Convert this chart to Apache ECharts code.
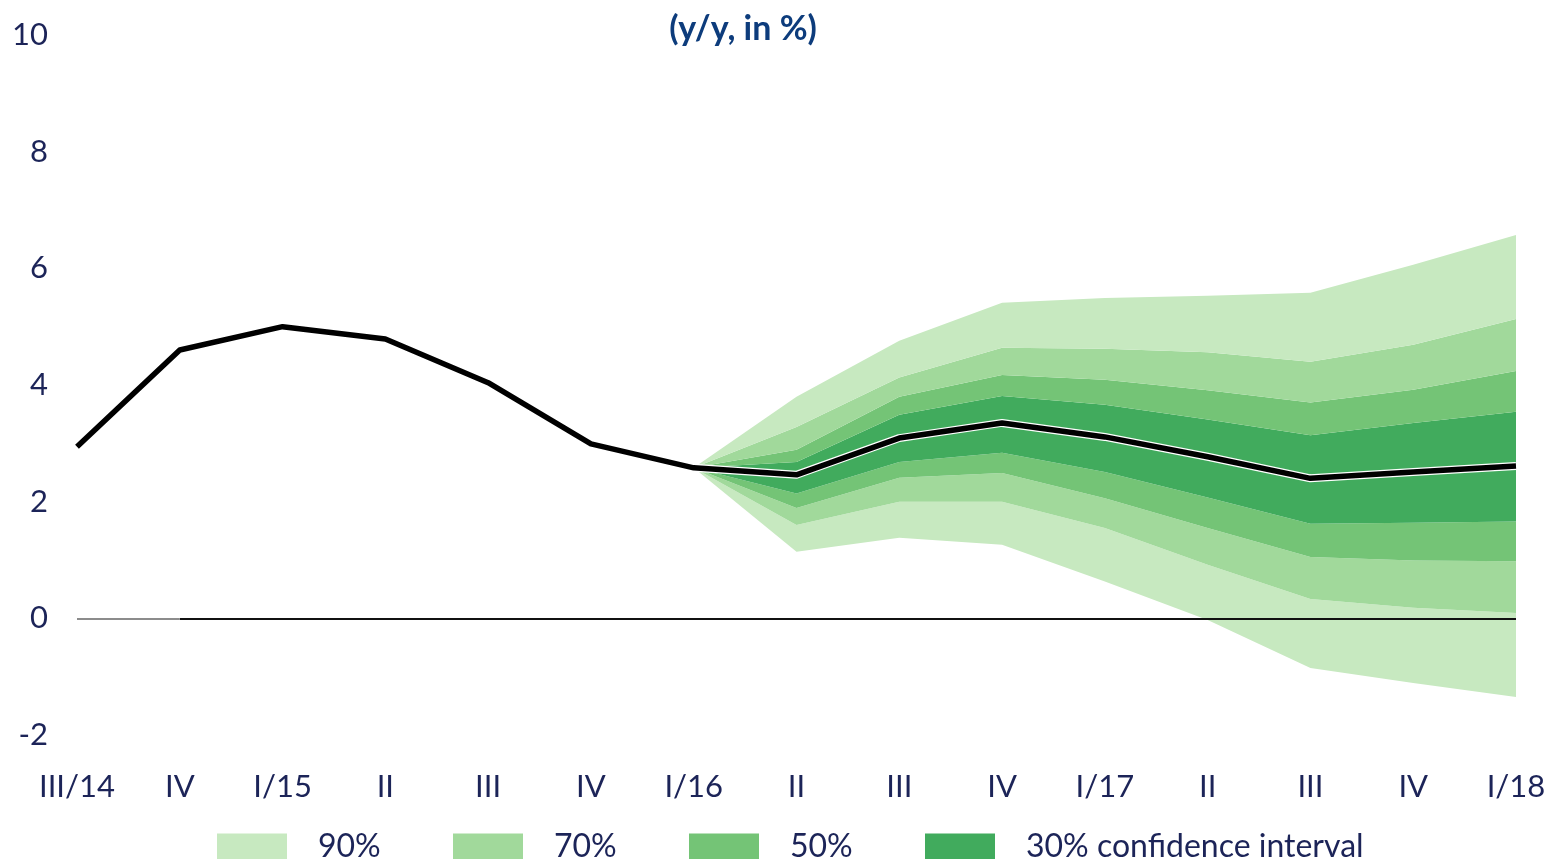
<!DOCTYPE html>
<html>
<head>
<meta charset="utf-8">
<script src="https://cdn.jsdelivr.net/npm/echarts@6/dist/echarts.min.js"></script>
<style>
  html, body { margin: 0; padding: 0; background: #fff; }
  #chart { width: 1559px; height: 859px; }
</style>
</head>
<body>
<div id="chart"></div>
<script>
// Quarterly categories
const quarters = ['III/14', 'IV', 'I/15', 'II', 'III', 'IV', 'I/16', 'II', 'III', 'IV', 'I/17', 'II', 'III', 'IV', 'I/18'];

// Central path (y/y, in %)
const central = [2.94, 4.60, 5.00, 4.79, 4.04, 2.99, 2.58, 2.46, 3.09, 3.35, 3.11, 2.77, 2.40, 2.51, 2.61];

// Fan chart bounds: null before the forecast starts
const upper90 = [null, null, null, null, null, null, 2.58, 3.80, 4.76, 5.41, 5.49, 5.53, 5.58, 6.06, 6.57];
const upper70 = [null, null, null, null, null, null, 2.58, 3.28, 4.13, 4.64, 4.62, 4.56, 4.40, 4.69, 5.13];
const upper50 = [null, null, null, null, null, null, 2.58, 2.89, 3.80, 4.17, 4.09, 3.91, 3.70, 3.92, 4.24];
const upper30 = [null, null, null, null, null, null, 2.58, 2.68, 3.49, 3.81, 3.66, 3.41, 3.14, 3.35, 3.54];
const lower30 = [null, null, null, null, null, null, 2.58, 2.14, 2.68, 2.84, 2.51, 2.07, 1.62, 1.64, 1.66];
const lower50 = [null, null, null, null, null, null, 2.58, 1.89, 2.41, 2.49, 2.06, 1.55, 1.05, 0.99, 0.98];
const lower70 = [null, null, null, null, null, null, 2.58, 1.60, 2.00, 2.00, 1.55, 0.92, 0.33, 0.18, 0.09];
const lower90 = [null, null, null, null, null, null, 2.58, 1.14, 1.38, 1.26, 0.63, -0.03, -0.85, -1.11, -1.35];

const yTicks = { min: -2, max: 10, step: 2 };
const bandNames = ['90%', '70%', '50%', '30% confidence interval'];

const colors = { c90: '#c7e9c0', c70: '#a1d99b', c50: '#74c476', c30: '#41ab5d' };
const textColor = '#1c2458';
const fontFamily = 'Lato, "Noto Sans", sans-serif';

// Differences between consecutive bounds, stacked on the lowest bound
function diff(a, b) {
  return a.map((v, i) => (v == null || b[i] == null) ? null : +(v - b[i]).toFixed(4));
}
const layers = [
  { name: bandNames[0], color: colors.c90, data: diff(lower70, lower90) },
  { name: bandNames[1], color: colors.c70, data: diff(lower50, lower70) },
  { name: bandNames[2], color: colors.c50, data: diff(lower30, lower50) },
  { name: bandNames[3], color: colors.c30, data: diff(upper30, lower30) },
  { name: bandNames[2], color: colors.c50, data: diff(upper50, upper30) },
  { name: bandNames[1], color: colors.c70, data: diff(upper70, upper50) },
  { name: bandNames[0], color: colors.c90, data: diff(upper90, upper70) }
];

const series = [
  {
    name: 'base',
    type: 'line',
    stack: 'fan',
    stackStrategy: 'all',
    data: lower90,
    symbol: 'none',
    lineStyle: { width: 0, opacity: 0 },
    silent: true,
    z: 1
  }
].concat(layers.map(l => ({
  name: l.name,
  type: 'line',
  stack: 'fan',
  stackStrategy: 'all',
  data: l.data,
  symbol: 'none',
  lineStyle: { width: 0, opacity: 0 },
  areaStyle: { color: l.color, opacity: 1 },
  itemStyle: { color: l.color },
  silent: true,
  z: 1
})));

const last = quarters.length - 1;

// Zero line across the plot, lighter over the first quarter
series.push({
  name: 'zero',
  type: 'line',
  data: [],
  symbol: 'none',
  silent: true,
  z: 2,
  markLine: {
    silent: true,
    symbol: 'none',
    label: { show: false },
    emphasis: { disabled: true },
    lineStyle: { color: '#111111', width: 2, type: 'solid', opacity: 1 },
    data: [
      [{ coord: [1, 0] }, { coord: [last, 0] }],
      [{ coord: [0, 0], lineStyle: { color: '#8c8c8c', width: 2, type: 'solid', opacity: 1 } }, { coord: [1, 0] }]
    ]
  }
});

// White edge under the central path
series.push({
  name: 'edge',
  type: 'line',
  data: central,
  symbol: 'none',
  lineStyle: { color: '#ffffff', width: 8, join: 'round' },
  silent: true,
  z: 3
});
series.push({
  name: 'central',
  type: 'line',
  data: central,
  symbol: 'none',
  lineStyle: { color: '#000000', width: 5.5, join: 'round' },
  silent: true,
  z: 4
});

const legendLefts = [217, 453, 689, 925];
const legends = bandNames.map((n, i) => ({
  data: [{ name: n, icon: 'rect' }],
  left: legendLefts[i],
  top: 831,
  padding: 0,
  itemWidth: 70,
  itemHeight: 27,
  selectedMode: false,
  textStyle: { color: textColor, fontSize: 32, fontFamily: fontFamily, padding: [0, 0, 0, 26] }
}));

const chart = echarts.init(document.getElementById('chart'), null, { renderer: 'canvas' });
chart.setOption({
  animation: false,
  backgroundColor: '#ffffff',
  title: {
    text: '(y/y, in %)',
    left: 738,
    textAlign: 'center',
    top: 7,
    textStyle: { color: '#0d3c7c', fontSize: 34, fontWeight: 'bold', fontFamily: fontFamily }
  },
  legend: legends,
  grid: { left: 77, right: 43, top: 35, bottom: 124, containLabel: false },
  xAxis: {
    type: 'category',
    data: quarters,
    boundaryGap: false,
    axisLine: { show: false },
    axisTick: { show: false },
    splitLine: { show: false },
    axisLabel: {
      color: textColor, fontSize: 31, fontFamily: fontFamily, margin: 36,
      interval: 0
    }
  },
  yAxis: {
    type: 'value',
    min: yTicks.min,
    max: yTicks.max,
    interval: yTicks.step,
    axisLine: { show: false },
    axisTick: { show: false },
    splitLine: { show: false },
    axisLabel: { color: textColor, fontSize: 31, fontFamily: fontFamily, margin: 29 }
  },
  series: series
});
</script>
</body>
</html>
